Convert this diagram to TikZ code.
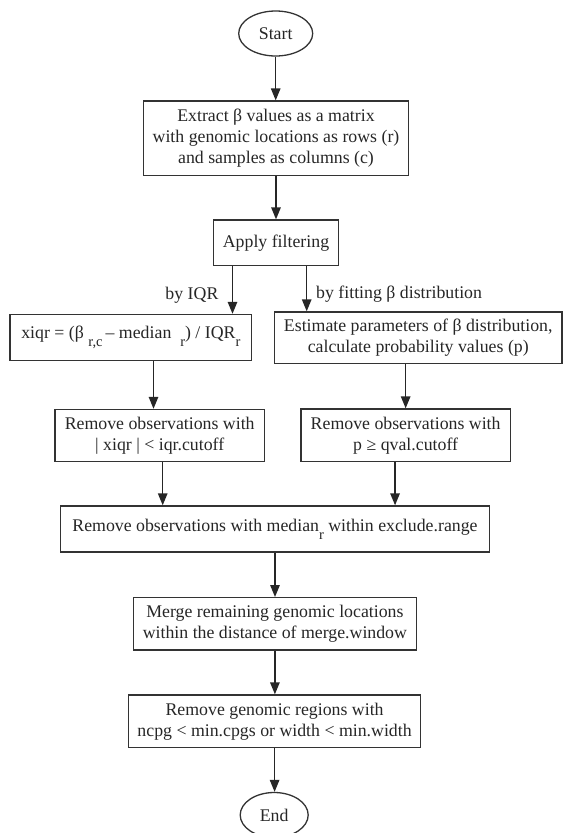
\documentclass[tikz,border=0pt]{standalone}
\usepackage{fontspec}
\setmainfont{Liberation Serif}
\usetikzlibrary{arrows.meta,shapes.geometric}
\newcommand{\sbx}[1]{\raisebox{-8pt}{\fontsize{14.5}{14.5}\selectfont #1}}
\begin{document}
\begin{tikzpicture}[x=1pt,y=-1pt,
  every node/.style={font=\fontsize{17.8}{21}\selectfont, text=black!85},
  box/.style={draw=black!80, line width=1.4pt, rectangle, align=center, inner sep=0pt},
  term/.style={draw=black!80, line width=1.3pt, ellipse, inner sep=0pt},
  arr/.style={draw=black!85, line width=1.4pt, -{Triangle[length=12pt,width=9.5pt]}},
  lbl/.style={inner sep=0pt}]
\useasboundingbox (0,0) rectangle (564,833);

\node[term, minimum width=74pt, minimum height=45pt] (start) at (275.7,33.5) {Start};
\node[box, minimum width=265.4pt, minimum height=74.7pt] (extract) at (276,138.4)
  {Extract β values as a matrix\\with genomic locations as rows (r)\\and samples as columns (c)};
\node[box, minimum width=125pt, minimum height=45.7pt] (apply) at (276,242.9) {Apply filtering};
\node[box, minimum width=241.7pt, minimum height=46pt] (xiqr) at (130.85,337.5)
  {xiqr = (β \sbx{r,c}\,– median\ \ \sbx{r}) / IQR\sbx{r}};
\node[box, minimum width=287.5pt, minimum height=51.5pt] (est) at (418.25,337.75)
  {Estimate parameters of β distribution,\\calculate probability values (p)};
\node[box, minimum width=209.2pt, minimum height=52.2pt] (remA) at (159.7,435.6)
  {Remove observations with\\| xiqr | < iqr.cutoff};
\node[box, minimum width=209.3pt, minimum height=52.5pt] (remB) at (405.65,435.25)
  {Remove observations with\\p ≥ qval.cutoff};
\node[box, minimum width=428.6pt, minimum height=46pt] (median) at (275,529)
  {Remove observations with median\sbx{r} within exclude.range};
\node[box, minimum width=283.4pt, minimum height=52.3pt] (merge) at (274.9,623.85)
  {Merge remaining genomic locations\\within the distance of merge.window};
\node[box, minimum width=292pt, minimum height=52.7pt] (remG) at (274.6,721.35)
  {Remove genomic regions with\\ncpg < min.cpgs or width < min.width};
\node[term, minimum width=68pt, minimum height=45pt] (end) at (274.2,815) {End};

\coordinate (ia) at ([xshift=-43.5pt]apply.south);
\coordinate (ib) at ([xshift=30.7pt]apply.south);
\node[lbl, anchor=east] (lblA) at (218.6,295) {by IQR};
\node[lbl, anchor=west] (lblB) at (316,294) {by fitting β distribution};

\draw[arr] (start.south) -- (start.south |- extract.north);
\draw[arr] (extract.south) -- (extract.south |- apply.north);
\draw[arr] (ia) -- (ia |- xiqr.north);
\draw[arr] (ib) -- (ib |- est.north);
\draw[arr] ([xshift=-6.2pt]remA.north |- xiqr.south) -- ([xshift=-6.2pt]remA.north);
\draw[arr] (remB.north |- est.south) -- (remB.north);
\draw[arr] ([xshift=3pt]remA.south) -- ([xshift=3pt]remA.south |- median.north);
\draw[arr] ([xshift=-10.6pt]remB.south) -- ([xshift=-10.6pt]remB.south |- median.north);
\draw[arr] (median.south) -- (median.south |- merge.north);
\draw[arr] (merge.south) -- (merge.south |- remG.north);
\draw[arr] (remG.south) -- (remG.south |- end.north);
\end{tikzpicture}
\end{document}
